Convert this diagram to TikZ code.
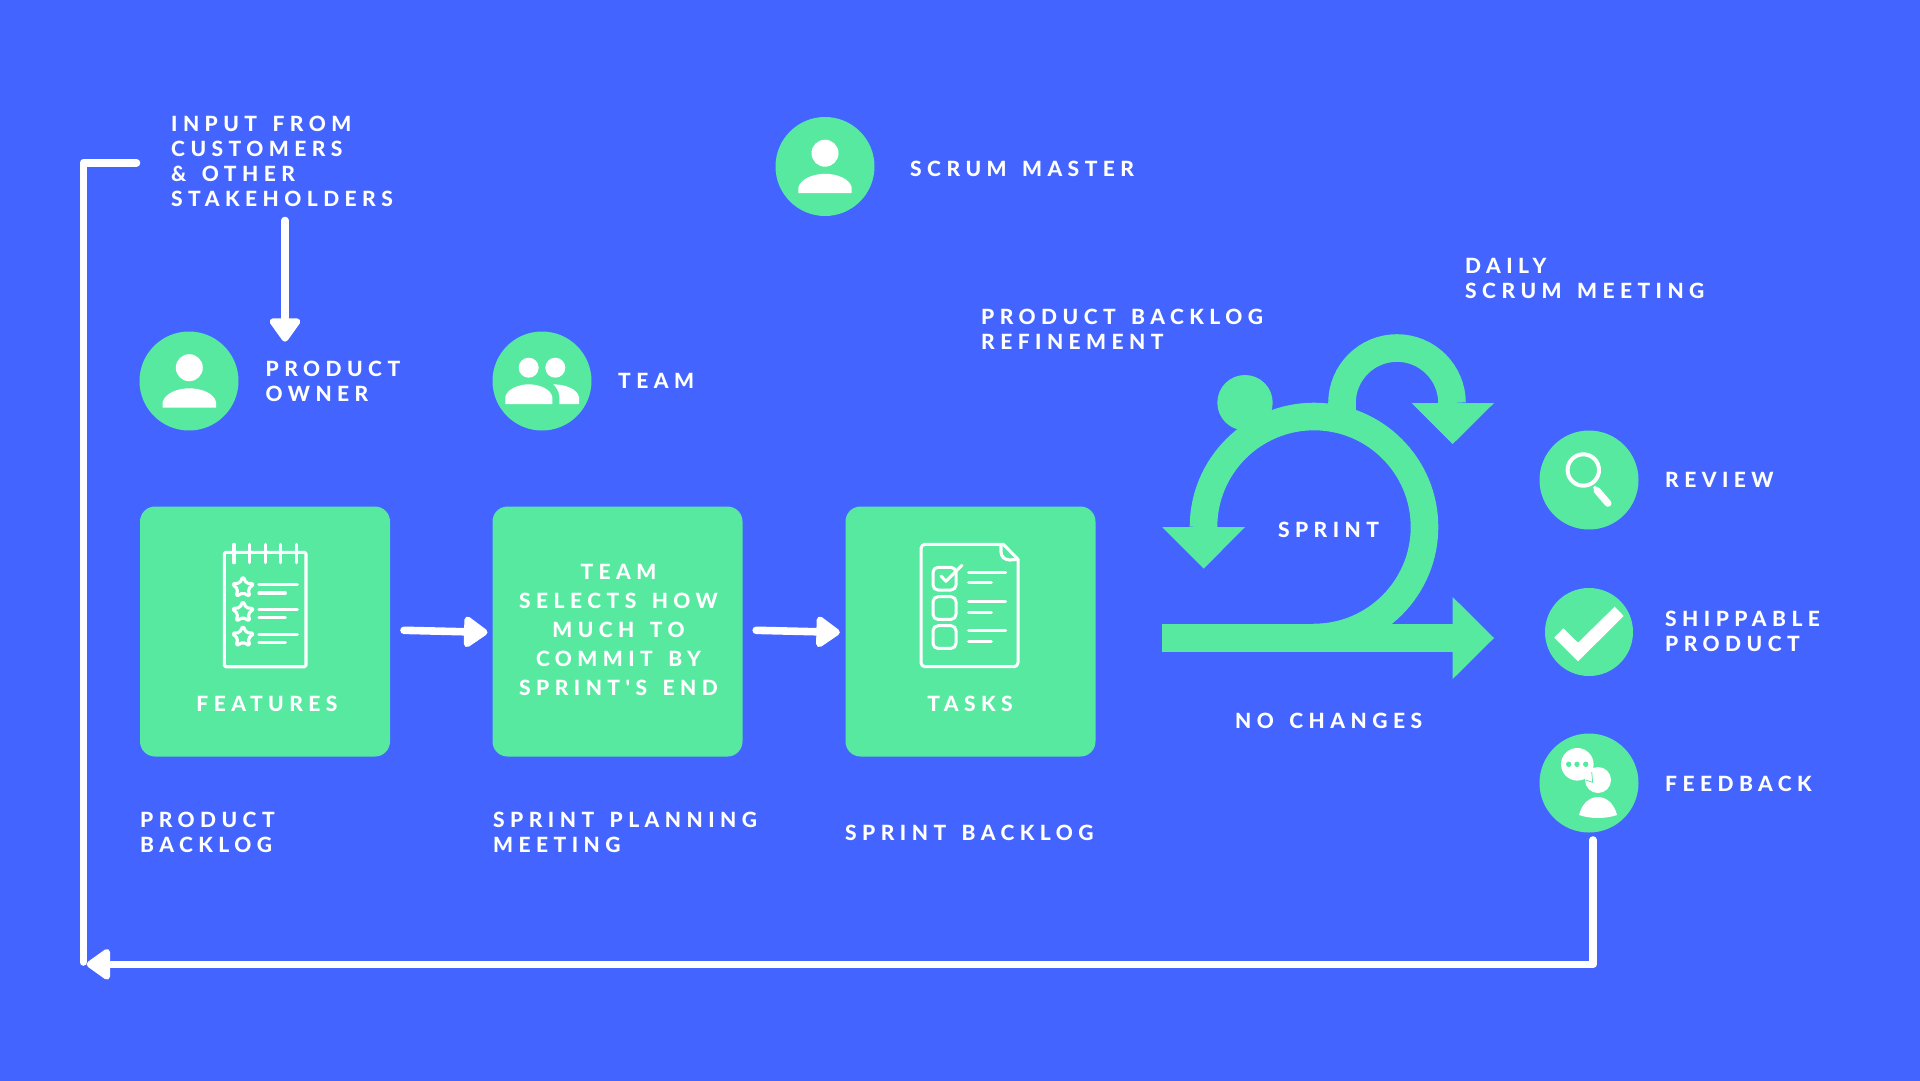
\documentclass[tikz,border=0pt]{standalone}
\usepackage{fontspec}
\usetikzlibrary{arrows.meta}
\setmainfont{Lato}
\newfontfamily\lblfont{Lato}[LetterSpace=26,WordSpace=1.48,UprightFont=* Heavy,BoldFont=* Heavy]
\definecolor{bgblue}{RGB}{67,100,255}
\definecolor{mint}{RGB}{88,233,161}
\tikzset{
  lbl/.style={text=white,font=\lblfont\fontsize{21}{25}\selectfont,align=left,inner sep=0pt,anchor=west},
  boxlbl/.style={text=white,font=\lblfont\fontsize{21}{29}\selectfont,align=center,inner sep=0pt},
  panel/.style={fill=mint,rounded corners=15pt,minimum width=250pt,minimum height=250pt,inner sep=0pt},
  badge/.style={circle,fill=mint,inner sep=0pt,minimum size=99pt},
  link/.style={draw=white,line width=7.6pt,line cap=round,line join=round},
  linkhead/.style={link,-{Triangle[length=26pt,width=35pt,round]}},
  ink/.style={draw=white,line width=3.1pt,line cap=round,line join=round},
  solid ink/.style={fill=white,draw=none},
  sprintband/.style={draw=mint,line width=27.6pt},
}
\begin{document}
\begin{tikzpicture}[x=1pt,y=-1pt]
\useasboundingbox (0,0) rectangle (1920,1080);
\fill[bgblue] (-5,-5) rectangle (1925,1085);

% role and outcome badges
\node[badge] (owner) at (189,381) {};
\node[badge] (team) at (542,381) {};
\node[badge] (master) at (825,166.5) {};
\node[badge] (review) at (1589,480) {};
\node[badge,minimum size=88pt] (ship) at (1589,632) {};
\node[badge] (feedback) at (1589,783) {};

% process panels
\node[panel] (backlog) at (265,631.5) {};
\node[panel] (planning) at (617.5,631.5) {};
\node[panel] (tasks) at (970.5,631.5) {};

% labels
\node[lbl] (inputlbl) at (171,161.2) {INPUT FROM\\CUSTOMERS\\\& OTHER\\STAKEHOLDERS};
\node[lbl] (masterlbl) at (910,168.5) {SCRUM MASTER};
\node[lbl] (ownerlbl) at (265.5,381) {PRODUCT\\OWNER};
\node[lbl] (teamlbl) at (618,380.5) {TEAM};
\node[lbl] (refinelbl) at (981,329) {PRODUCT BACKLOG\\REFINEMENT};
\node[lbl] (dailylbl) at (1465,278) {DAILY\\SCRUM MEETING};
\node[lbl] (reviewlbl) at (1665,479.5) {REVIEW};
\node[lbl] (shiplbl) at (1665,631) {SHIPPABLE\\PRODUCT};
\node[lbl] (feedbacklbl) at (1665,783.5) {FEEDBACK};
\node[lbl] (pbllbl) at (140,832) {PRODUCT\\BACKLOG};
\node[lbl] (spmlbl) at (493,832) {SPRINT PLANNING\\MEETING};
\node[lbl] (sbllbl) at (845,832.5) {SPRINT BACKLOG};
\node[lbl] (nochangelbl) at (1235,720.5) {NO CHANGES};
\node[boxlbl] (sprintlbl) at (1328.5,529.5) {SPRINT};
\node[boxlbl] (featlbl) at (267,703.5) {FEATURES};
\node[boxlbl] (taskslbl) at (970,703.5) {TASKS};
\node[boxlbl] (planlbl) at (618.5,630) {TEAM\\SELECTS HOW\\MUCH TO\\COMMIT BY\\SPRINT'S END};

% white connectors
\coordinate (loopstart) at (136.5,162.7);
\coordinate (loopcorner) at (83.3,162.7);
\coordinate (loopfoot) at (83.3,962);
\coordinate (returncorner) at (1593,964.3);
\coordinate (returnend) at (86.7,964.3);
\coordinate (feedbackfoot) at (1593,840);
\coordinate (stakefoot) at (285,220.5);
\coordinate (stakehead) at (285,341.7);
\draw[link] (loopstart) -- (loopcorner) -- (loopfoot);
\draw[linkhead] (feedbackfoot) -- (returncorner) -- (returnend);
\draw[linkhead] (stakefoot) -- (stakehead);
\draw[linkhead] ([xshift=13.8pt,yshift=1.2pt]backlog.east) -- ([xshift=-4.8pt,yshift=-0.8pt]planning.west);
\draw[linkhead] ([xshift=13.5pt,yshift=1.2pt]planning.east) -- ([xshift=-5.5pt,yshift=-0.8pt]tasks.west);

% sprint loop glyph
\fill[mint] (1245,402.7) circle (27.7);
\draw[sprintband] (1203.5,527) arc[start angle=180,end angle=-90,x radius=110.5,y radius=-110.5];
\fill[mint] (1162.3,624) rectangle (1452.7,651.7);
\fill[mint] (1452.7,597) -- (1494,638) -- (1452.7,679) -- cycle;
\fill[mint] (1162,527) -- (1245,527) -- (1203.7,568.7) -- cycle;
\draw[sprintband] (1342,418) -- (1342,403) arc[start angle=180,end angle=0,x radius=55,y radius=-55];
\fill[mint] (1411.7,403) -- (1494,403) -- (1452.7,444) -- cycle;

% person glyph on the owner badge
\fill[white] (189.3,367.7) circle (13.5);
\fill[solid ink] (162.7,407.7) -- (162.7,402) .. controls (165,393) and (178,388.3) .. (189.3,388.3) .. controls (201,388.3) and (214,393) .. (216,402) -- (216,407.7) -- cycle;

% person glyph on the scrum master badge
\begin{scope}[shift={(635.7,-214.5)}]
\fill[white] (189.3,367.7) circle (13.5);
\fill[solid ink] (162.7,407.7) -- (162.7,402) .. controls (165,393) and (178,388.3) .. (189.3,388.3) .. controls (201,388.3) and (214,393) .. (216,402) -- (216,407.7) -- cycle;
\end{scope}

% two people on the team badge
\fill[white] (528.7,367.7) circle (10);
\fill[white] (555.3,367.7) circle (10);
\fill[solid ink] (505.3,404) -- (505.3,397) .. controls (507,389) and (519,384.3) .. (528.7,384.3) .. controls (539,384.3) and (551,389) .. (552.3,397) -- (552.3,404) -- cycle;
\fill[solid ink] (553.3,384.3) .. controls (566,384.5) and (577,389) .. (579,397) -- (579,404) -- (559.3,404) -- (559.3,396) .. controls (559,391) and (556,387) .. (553.3,384.3) -- cycle;

% notepad with starred items
\draw[ink,rounded corners=1.5pt] (224.3,552.3) rectangle (306,666.7);
\foreach \sx in {234,249.7,265.3,280.7,296.3} \draw[ink] (\sx,544.3) -- (\sx,562.7);
\foreach \sy in {587.3,612,636.7} {
  \draw[ink,rounded corners=1.8pt] (243,\sy-11) -- (246.2,\sy-4.2) -- (254,\sy-3.4) -- (248.2,\sy+1.7) -- (249.8,\sy+9.2) -- (243,\sy+5.4) -- (236.2,\sy+9.2) -- (237.8,\sy+1.7) -- (232,\sy-3.4) -- (239.8,\sy-4.2) -- cycle;
  \draw[ink] (259,\sy-2.6) -- (297.3,\sy-2.6);
  \draw[ink] (259,\sy+5.7) -- (285.3,\sy+5.7);
}

% checklist sheet
\draw[ink,line width=3pt,rounded corners=4pt] (1003.3,544.3) -- (921,544.3) -- (921,666.7) -- (1018,666.7) -- (1018,559.3);
\draw[ink,line width=3pt] (1003.3,544.3) -- (1018,559.3);
\draw[ink] (1001,544.3) -- (1001,552) .. controls (1001,557) and (1005,560) .. (1010,560) -- (1018,559.3);
\foreach \by in {567.3,596.7,625.7} {
  \draw[ink,line width=3pt,rounded corners=5pt] (933,\by) rectangle (956,\by+22.7);
  \draw[ink,line width=3pt] (968.7,\by+4.7) -- (1005.7,\by+4.7);
  \draw[ink,line width=3pt] (968.7,\by+15.4) -- (991.3,\by+15.4);
}
\fill[mint] (957,565) -- (966,565) -- (961,572) -- cycle;
\draw[ink,line width=3pt] (941,576) -- (946,581.3) -- (962,565.3);

% magnifier
\draw[white,line width=4pt] (1583.3,470) circle (15.7);
\draw[white,line width=3pt] (1594,486.7) -- (1598,491);
\draw[white,line width=7pt,line cap=round] (1597,490.5) -- (1608,503.3);

% tick
\fill[white] (1554.3,637.7) -- (1563.3,628.3) -- (1578,642.7) -- (1614.7,606.7) -- (1623.7,616) -- (1578,661.3) -- cycle;

% speech bubble and person
\fill[white] (1577.3,764.3) circle (16.3);
\fill[mint] (1568.7,764.3) circle (2.7) (1577,764.3) circle (2.7) (1585.7,764.3) circle (2.7);
\fill[white] (1598,780) circle (13);
\fill[white] (1585,772) -- (1593,782) -- (1591,770) -- cycle;
\draw[mint,line width=.8pt] (1585.5,780) -- (1592.7,782.3) -- (1591.7,772);
\fill[white] (1579,815) .. controls (1582,803) and (1590,797) .. (1598,797) .. controls (1606,797) and (1614,803) .. (1617,815) .. controls (1605,819) and (1591,819) .. (1579,815) -- cycle;
\end{tikzpicture}
\end{document}
